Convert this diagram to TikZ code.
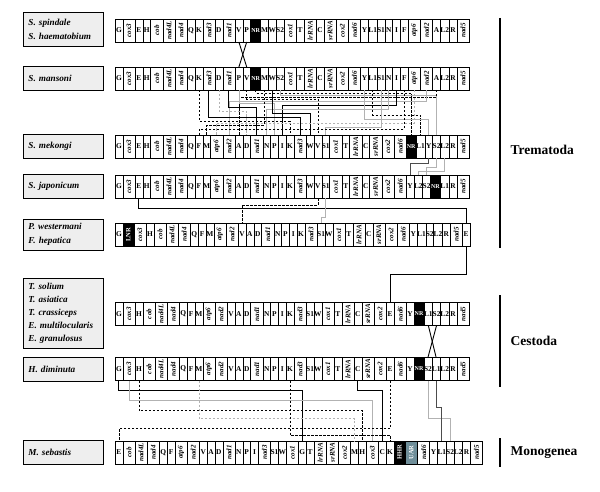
\documentclass[tikz,border=0pt]{standalone}
\usepackage{fontspec}
\setmainfont{Liberation Serif}
\usepackage{xcolor}
\usetikzlibrary{positioning}
\definecolor{uarblue}{HTML}{6F8E99}

% text inside one cell, after its kind
\newcommand{\txtlt}[1]{#1}
\newcommand{\txtgn}[1]{\rotatebox{90}{\itshape #1}}
\newcommand{\txtnr}[1]{#1}
\newcommand{\txtrt}[1]{\rotatebox{90}{#1}}
\newcommand{\txtua}[1]{\rotatebox{90}{#1}}

% one gene order: row name, y, list of gene/kind
\newcommand{\generow}[3]{%
  \coordinate (r#1-st) at (115,-#2);
  \foreach \nm/\ty [remember=\nm as \pv (initially st)] in {#3}
    \node[\ty, right=0pt of r#1-\pv] (r#1-\nm) {\csname txt\ty\endcsname{\nm}};
}

\tikzset{
  cell/.style={draw, line width=0.5pt, minimum height=23pt, inner sep=0pt, outer sep=0pt, fill=white,
    font=\bfseries\fontsize{7.4}{7.4}\selectfont},
  lt/.style={cell, minimum width=7.8pt},
  gn/.style={cell, minimum width=12.2pt, font=\bfseries\fontsize{7}{7}\selectfont},
  nr/.style={cell, minimum width=10pt, fill=black, text=white, font=\bfseries\fontsize{6}{6}\selectfont},
  rt/.style={cell, minimum width=11pt, fill=black, text=white, font=\bfseries\fontsize{6.5}{6.5}\selectfont},
  ua/.style={cell, minimum width=12.5pt, fill=uarblue, text=white, font=\bfseries\fontsize{6.5}{6.5}\selectfont},
  lab/.style={draw, line width=0.9pt, fill=gray!13, anchor=west, minimum width=80pt, text width=70pt,
    inner xsep=5pt, align=left, font=\bfseries\itshape\fontsize{9.2}{14}\selectfont},
  blk/.style={line width=0.9pt},
  dsh/.style={line width=0.8pt, dash pattern=on 2.5pt off 1.5pt},
  gry/.style={line width=0.8pt, gray!60},
  gdsh/.style={line width=0.8pt, gray!60, dash pattern=on 2.5pt off 1.5pt},
  drk/.style={line width=0.8pt, black!70},
  clade/.style={anchor=west, font=\bfseries\fontsize{13.5}{13.5}\selectfont}
}

\begin{document}
\begin{tikzpicture}[x=1pt,y=1pt]
  \useasboundingbox (0,0) rectangle (600,-492);

  % species boxes
  \node[lab, minimum height=34pt] (l1) at (23,-29) {S. spindale\\S. haematobium};
  \node[lab, minimum height=24pt] (l2) at (23,-78.5) {S. mansoni};
  \node[lab, minimum height=24pt] (l3) at (23,-146.5) {S. mekongi};
  \node[lab, minimum height=24pt] (l4) at (23,-186.5) {S. japonicum};
  \node[lab, minimum height=31pt] (l5) at (23,-234.5) {P. westermani\\F. hepatica};
  \node[lab, minimum height=70pt, font=\bfseries\itshape\fontsize{9.2}{13}\selectfont] (l6) at (23,-313)
    {T. solium\\T. asiatica\\T. crassiceps\\E. multilocularis\\E. granulosus};
  \node[lab, minimum height=24pt] (l7) at (23,-369) {H. diminuta};
  \node[lab, minimum height=24pt] (l8) at (23,-452.5) {M. sebastis};

  % gene orders
  \generow{1}{30.5}{G/lt,cox3/gn,E/lt,H/lt,cob/gn,nad4L/gn,nad4/gn,Q/lt,K/lt,nad3/gn,D/lt,nad1/gn,V/lt,P/lt,NR/nr,M/lt,W/lt,S2/lt,cox1/gn,T/lt,lrRNA/gn,C/lt,srRNA/gn,cox2/gn,nad6/gn,Y/lt,L1/lt,S1/lt,N/lt,I/lt,F/lt,atp6/gn,nad2/gn,A/lt,L2/lt,R/lt,nad5/gn}
  \generow{2}{78.5}{G/lt,cox3/gn,E/lt,H/lt,cob/gn,nad4L/gn,nad4/gn,Q/lt,K/lt,nad3/gn,D/lt,nad1/gn,P/lt,V/lt,NR/nr,M/lt,W/lt,S2/lt,cox1/gn,T/lt,lrRNA/gn,C/lt,srRNA/gn,cox2/gn,nad6/gn,Y/lt,L1/lt,S1/lt,N/lt,I/lt,F/lt,atp6/gn,nad2/gn,A/lt,L2/lt,R/lt,nad5/gn}
  \generow{3}{146.5}{G/lt,cox3/gn,E/lt,H/lt,cob/gn,nad4L/gn,nad4/gn,Q/lt,F/lt,M/lt,atp6/gn,nad2/gn,A/lt,D/lt,nad1/gn,N/lt,P/lt,I/lt,K/lt,nad3/gn,W/lt,V/lt,S1/lt,cox1/gn,T/lt,lrRNA/gn,C/lt,srRNA/gn,cox2/gn,nad6/gn,NR/nr,L1/lt,Y/lt,S2/lt,L2/lt,R/lt,nad5/gn}
  \generow{4}{186.5}{G/lt,cox3/gn,E/lt,H/lt,cob/gn,nad4L/gn,nad4/gn,Q/lt,F/lt,M/lt,atp6/gn,nad2/gn,A/lt,D/lt,nad1/gn,N/lt,P/lt,I/lt,K/lt,nad3/gn,W/lt,V/lt,S1/lt,cox1/gn,T/lt,lrRNA/gn,C/lt,srRNA/gn,cox2/gn,nad6/gn,Y/lt,L2/lt,S2/lt,NR/nr,L1/lt,R/lt,nad5/gn}
  \generow{5}{234.5}{G/lt,LNR/rt,cox3/gn,H/lt,cob/gn,nad4L/gn,nad4/gn,Q/lt,F/lt,M/lt,atp6/gn,nad2/gn,V/lt,A/lt,D/lt,nad1/gn,N/lt,P/lt,I/lt,K/lt,nad3/gn,S1/lt,W/lt,cox1/gn,T/lt,lrRNA/gn,C/lt,srRNA/gn,cox2/gn,nad6/gn,Y/lt,L1/lt,S2/lt,L2/lt,R/lt,nad5/gn,E/lt}
  \generow{6}{314}{G/lt,cox3/gn,H/lt,cob/gn,nad4L/gn,nad4/gn,Q/lt,F/lt,M/lt,atp6/gn,nad2/gn,V/lt,A/lt,D/lt,nad1/gn,N/lt,P/lt,I/lt,K/lt,nad3/gn,S1/lt,W/lt,cox1/gn,T/lt,lrRNA/gn,C/lt,srRNA/gn,cox2/gn,E/lt,nad6/gn,Y/lt,NR/nr,L1/lt,S2/lt,L2/lt,R/lt,nad5/gn}
  \generow{7}{369}{G/lt,cox3/gn,H/lt,cob/gn,nad4L/gn,nad4/gn,Q/lt,F/lt,M/lt,atp6/gn,nad2/gn,V/lt,A/lt,D/lt,nad1/gn,N/lt,P/lt,I/lt,K/lt,nad3/gn,S1/lt,W/lt,cox1/gn,T/lt,lrRNA/gn,C/lt,srRNA/gn,cox2/gn,E/lt,nad6/gn,Y/lt,NR/nr,S2/lt,L1/lt,L2/lt,R/lt,nad5/gn}
  \generow{8}{452.5}{E/lt,cob/gn,nad4L/gn,nad4/gn,Q/lt,F/lt,atp6/gn,nad2/gn,V/lt,A/lt,D/lt,nad1/gn,N/lt,P/lt,I/lt,nad3/gn,S1/lt,W/lt,cox1/gn,G/lt,T/lt,lrRNA/gn,srRNA/gn,cox2/gn,M/lt,H/lt,cox3/gn,C/lt,K/lt,HHR/rt,UAR/ua,nad6/gn,Y/lt,L1/lt,S2/lt,L2/lt,R/lt,nad5/gn}

  % rearrangements
  \draw[blk] (r1-V.south) -- (r2-V.north);
  \draw[blk] (r1-P.south) -- (r2-P.north);
  \foreach \nm/\st/\d in {NR/dsh/3, S2/gry/5, A/dsh/7, V/dsh/9, nad2/gry/11, P/gry/13, I/blk/15,
      nad1/blk/17, N/gry/19, D/gdsh/21, W/blk/23, L1/dsh/25, nad3/blk/27, Y/gry/29, K/dsh/31,
      atp6/gdsh/33, M/dsh/35, S1/gry/37, F/dsh/39}
    \draw[\st] (r2-\nm.south) -- ++(0,-\d) -| (r3-\nm.north);
  \foreach \nm/\st/\d in {Y/drk/5, S2/gry/9, L2/gry/13}
    \draw[\st] (r3-\nm.south) -- ++(0,-\d) -| (r4-\nm.north);
  \draw[blk] (r4-E.south) -- ++(0,-10) -| (r5-E.north);
  \draw[dsh] (r4-V.south) -- ++(0,-7) -| (r5-V.north);
  \draw[gry] (r4-S1.south) -- ++(0,-19) -| (r5-S1.north);
  \draw[blk] (r5-E.south) -- ++(0,-28) -| (r6-E.north);
  \draw[blk] (r6-L1.south) -- (r7-L1.north);
  \draw[blk] (r6-S2.south) -- (r7-S2.north);
  \foreach \nm/\st/\d in {G/blk/10, cox3/gry/20, H/dsh/30, M/gdsh/38, C/blk/10, E/dsh/48,
      K/dsh/55, S2/gry/38, L1/drk/27}
    \draw[\st] (r7-\nm.south) -- ++(0,-\d) -| (r8-\nm.north);

  % groups
  \draw[line width=2pt] (500,-18) -- (500,-248);
  \draw[line width=2pt] (500,-295) -- (500,-387);
  \draw[line width=2pt] (500,-438) -- (500,-467);
  \node[clade] (trem) at (507,-150) {Trematoda};
  \node[clade] (cest) at (507,-341) {Cestoda};
  \node[clade] (mono) at (507,-453) {Monogenea};
\end{tikzpicture}
\end{document}
